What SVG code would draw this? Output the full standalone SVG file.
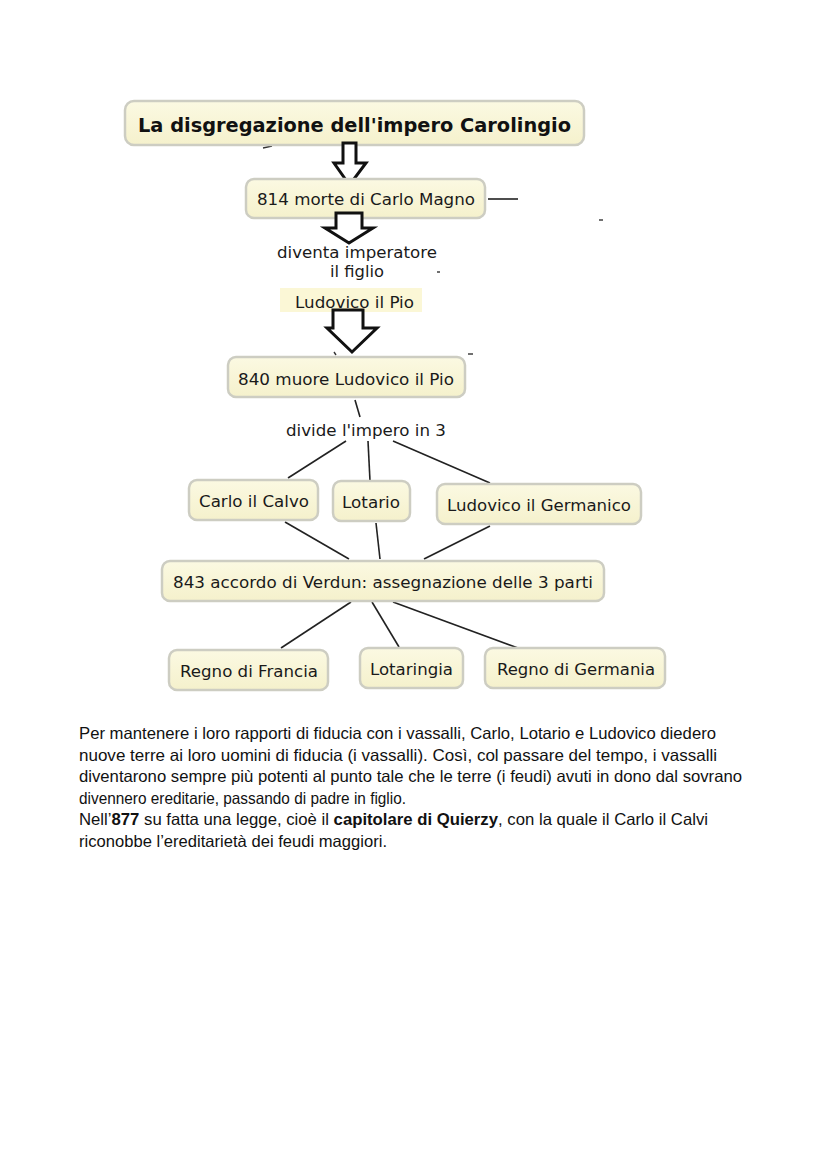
<svg xmlns="http://www.w3.org/2000/svg" width="828" height="1171" viewBox="0 0 828 1171">
<defs>
<linearGradient id="nf" x1="0" y1="0" x2="0" y2="1">
<stop offset="0" stop-color="#fbf9e2"/>
<stop offset="1" stop-color="#f5f1cc"/>
</linearGradient>
</defs>
<style>
.box{fill:url(#nf);stroke:#cdcdc2;stroke-width:2.5}
.t{font-family:"DejaVu Sans",Verdana,sans-serif;font-size:16.5px;fill:#1a1a1a;text-anchor:middle}
.tb{font-family:"DejaVu Sans",Verdana,sans-serif;font-size:20px;font-weight:bold;fill:#111;text-anchor:middle}
.ln{stroke:#222;stroke-width:1.6;fill:none}
.arr{fill:#fff;stroke:#111;stroke-width:3;stroke-linejoin:miter}
.p{font-family:"Liberation Sans Narrow","Liberation Sans",Arial,sans-serif;font-size:16.5px;fill:#111}
.mk{stroke:#333;stroke-width:1.4}
</style>
<rect width="828" height="1171" fill="#fff"/>

<g id="connectors">
<line class="ln" x1="488" y1="199" x2="518" y2="199"/>
<line class="ln" x1="355" y1="400" x2="360" y2="417"/>
<line class="ln" x1="346" y1="441" x2="288" y2="478"/>
<line class="ln" x1="368" y1="441" x2="370" y2="481"/>
<line class="ln" x1="393" y1="441" x2="490" y2="483"/>
<line class="ln" x1="285" y1="522" x2="349" y2="559"/>
<line class="ln" x1="376" y1="523" x2="380" y2="559"/>
<line class="ln" x1="490" y1="526" x2="424" y2="559"/>
<line class="ln" x1="351" y1="602" x2="281" y2="648"/>
<line class="ln" x1="372" y1="602" x2="399" y2="647"/>
<line class="ln" x1="393" y1="602" x2="518" y2="648"/>
<line class="mk" x1="263" y1="148" x2="272" y2="146"/>
<line class="mk" x1="599" y1="220" x2="603" y2="220"/>
<line class="mk" x1="437" y1="272" x2="440" y2="272"/>
<line class="mk" x1="334" y1="352" x2="336" y2="355"/>
<line class="mk" x1="468" y1="354" x2="473" y2="354"/>
<line class="mk" x1="246" y1="197" x2="247" y2="199"/>
</g>

<g id="n-title">
<rect class="box" x="125" y="101" width="459" height="44" rx="9"/>
<text class="tb" x="354.5" y="132" textLength="433" lengthAdjust="spacingAndGlyphs">La disgregazione dell'impero Carolingio</text>
</g>

<g id="a1">
<path class="arr" d="M343,143 H356 V163 H366 L349.5,185 L334,163 H343 Z"/>
</g>

<g id="n-814">
<rect class="box" x="246" y="179" width="239" height="39" rx="8"/>
<text class="t" x="366" y="205" textLength="218" lengthAdjust="spacingAndGlyphs">814 morte di Carlo Magno</text>
</g>

<g id="a2">
<path class="arr" d="M336,213 H362 V228 H373 L349,243 L325,228 H336 Z"/>
</g>

<g id="n-diventa">
<text class="t" x="357" y="258" textLength="160" lengthAdjust="spacingAndGlyphs">diventa imperatore</text>
<text class="t" x="357" y="277" textLength="54" lengthAdjust="spacingAndGlyphs">il figlio</text>
</g>

<g id="n-ludovico">
<rect x="280" y="288" width="142" height="24" fill="#fbf7d6"/>
<text class="t" x="354.5" y="308" textLength="119" lengthAdjust="spacingAndGlyphs">Ludovico il Pio</text>
</g>

<g id="a3">
<path class="arr" d="M333,310 H363 V328 H377 L352,352 L327,328 H333 Z"/>
</g>

<g id="n-840">
<rect class="box" x="228" y="357" width="237" height="40" rx="8"/>
<text class="t" x="346" y="385" textLength="216" lengthAdjust="spacingAndGlyphs">840 muore Ludovico il Pio</text>
</g>

<g id="n-divide">
<text class="t" x="366" y="436" textLength="160" lengthAdjust="spacingAndGlyphs">divide l'impero in 3</text>
</g>

<g id="n-carlo">
<rect class="box" x="189" y="480" width="129" height="40" rx="8"/>
<text class="t" x="254" y="507" textLength="110" lengthAdjust="spacingAndGlyphs">Carlo il Calvo</text>
</g>

<g id="n-lotario">
<rect class="box" x="333" y="481" width="77" height="40" rx="8"/>
<text class="t" x="371" y="508" textLength="58" lengthAdjust="spacingAndGlyphs">Lotario</text>
</g>

<g id="n-ludgerm">
<rect class="box" x="437" y="484" width="204" height="40" rx="8"/>
<text class="t" x="539" y="511" textLength="184" lengthAdjust="spacingAndGlyphs">Ludovico il Germanico</text>
</g>

<g id="n-843">
<rect class="box" x="162" y="561" width="442" height="40" rx="8"/>
<text class="t" x="383" y="588" textLength="420" lengthAdjust="spacingAndGlyphs">843 accordo di Verdun: assegnazione delle 3 parti</text>
</g>

<g id="n-francia">
<rect class="box" x="169" y="650" width="159" height="40" rx="8"/>
<text class="t" x="249" y="677" textLength="138" lengthAdjust="spacingAndGlyphs">Regno di Francia</text>
</g>

<g id="n-lotaringia">
<rect class="box" x="360" y="648" width="103" height="40" rx="8"/>
<text class="t" x="411.5" y="675" textLength="83" lengthAdjust="spacingAndGlyphs">Lotaringia</text>
</g>

<g id="n-germania">
<rect class="box" x="485" y="648" width="180" height="40" rx="8"/>
<text class="t" x="576" y="675" textLength="158" lengthAdjust="spacingAndGlyphs">Regno di Germania</text>
</g>

<g id="paragraph">
<text class="p" x="79" y="739" textLength="637" lengthAdjust="spacingAndGlyphs">Per mantenere i loro rapporti di fiducia con i vassalli, Carlo, Lotario e Ludovico diedero</text>
<text class="p" x="79" y="761" textLength="638" lengthAdjust="spacingAndGlyphs">nuove terre ai loro uomini di fiducia (i vassalli). Così, col passare del tempo, i vassalli</text>
<text class="p" x="79" y="782" textLength="663" lengthAdjust="spacingAndGlyphs">diventarono sempre più potenti al punto tale che le terre (i feudi) avuti in dono dal sovrano</text>
<text class="p" x="79" y="804" textLength="327" lengthAdjust="spacingAndGlyphs">divennero ereditarie, passando di padre in figlio.</text>
<text class="p" x="79" y="825" textLength="629" lengthAdjust="spacingAndGlyphs">Nell’<tspan font-weight="bold">877</tspan> su fatta una legge, cioè il <tspan font-weight="bold">capitolare di Quierzy</tspan>, con la quale il Carlo il Calvi</text>
<text class="p" x="79" y="847" textLength="308" lengthAdjust="spacingAndGlyphs">riconobbe l’ereditarietà dei feudi maggiori.</text>
</g>
</svg>
